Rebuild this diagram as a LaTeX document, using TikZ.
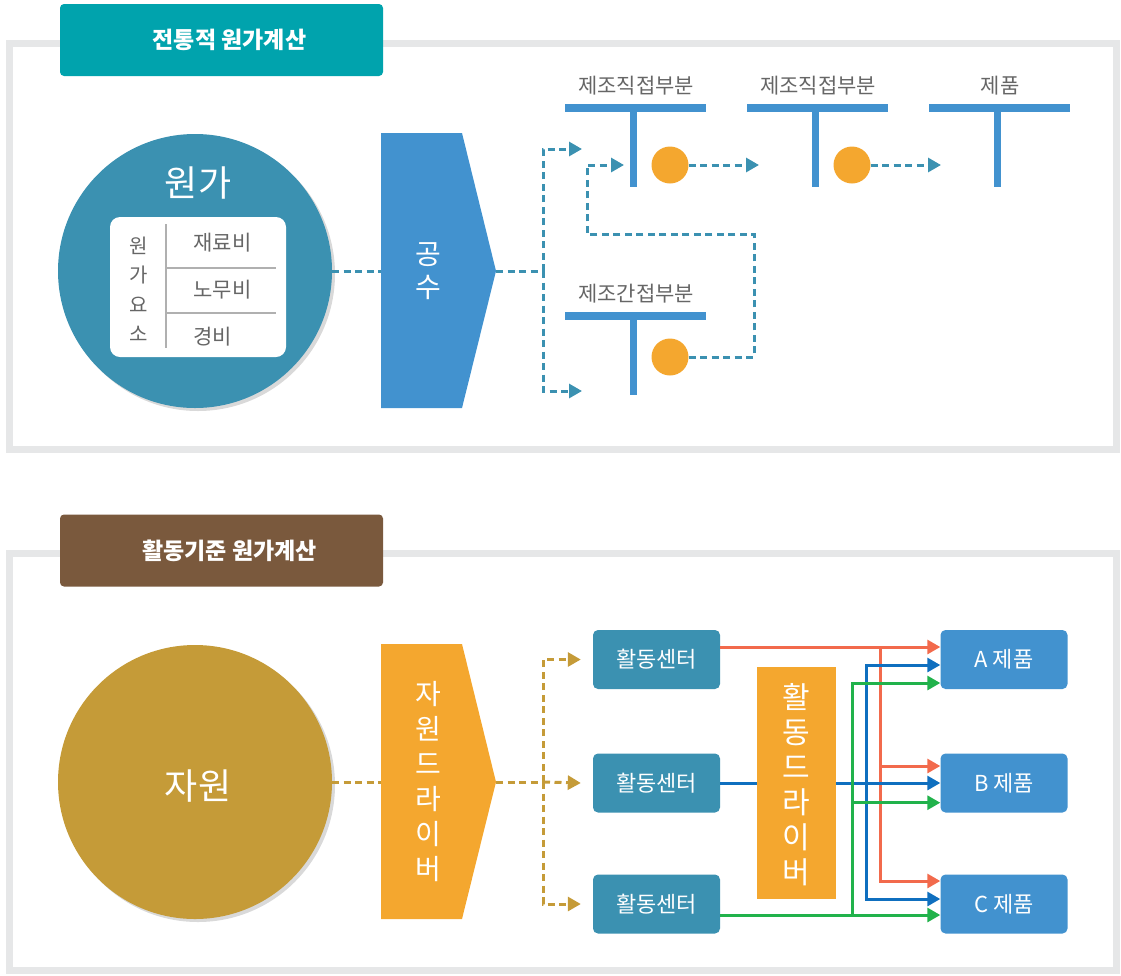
\documentclass[tikz,border=0pt]{standalone}
\usepackage{fontspec}
\setmainfont{Noto Sans CJK KR}
\usetikzlibrary{arrows.meta,shadows,calc}
\definecolor{titleteal}{RGB}{0,163,173}
\definecolor{titlebrown}{RGB}{122,89,61}
\definecolor{costblue}{RGB}{59,145,177}
\definecolor{chevblue}{RGB}{66,146,207}
\definecolor{dotorange}{RGB}{244,167,47}
\definecolor{resgold}{RGB}{197,155,56}
\definecolor{panelgray}{RGB}{230,231,232}
\definecolor{graytext}{RGB}{102,102,102}
\definecolor{linegray}{RGB}{176,176,176}
\definecolor{redline}{RGB}{242,106,76}
\definecolor{blueline}{RGB}{15,111,191}
\definecolor{greenline}{RGB}{33,178,75}

\begin{document}
\begin{tikzpicture}[x=1pt,y=-1pt]
			\tikzset{>={Triangle[length=13pt,width=14pt]}}
			\tikzset{
				panel/.style={draw=panelgray, line width=7pt},
				titlebox/.style={rounded corners=4pt, minimum width=323pt, minimum height=72pt, inner sep=0pt, text=white, font=\fontsize{23}{26}\selectfont\bfseries},
				bigcircle/.style={circle, minimum size=274pt, inner sep=0pt, drop shadow={shadow xshift=3pt, shadow yshift=-3pt, opacity=0.3}},
				flow/.style={dash pattern=on 7pt off 4.5pt, line width=3pt},
				dot/.style={circle, fill=dotorange, minimum size=37pt, inner sep=0pt},
				tlabel/.style={text=graytext, font=\fontsize{21}{24}\selectfont},
				vtext/.style={text=white, align=center, inner sep=0pt},
				acbox/.style={fill=costblue, rounded corners=5pt, minimum width=127pt, minimum height=59pt, text=white, font=\fontsize{22}{24}\selectfont},
				prodbox/.style={fill=chevblue, rounded corners=5pt, minimum width=127pt, minimum height=59pt, text=white, font=\fontsize{22}{24}\selectfont},
				cline/.style={line width=3pt, ->}
			}
			\useasboundingbox (0,0) rectangle (1121,975);

			\newcommand\TBar[4]{%
				\fill[chevblue] (#2-68,#3-4) rectangle (#2+73,#3+4);
				\fill[chevblue] (#2-3.5,#3) rectangle (#2+3.5,#3+79);
				\node[tlabel] (#1) at (#2+3,#3-22) {#4};
			}

			% traditional costing
			\draw[panel] (9,43) rectangle (1116.5,449);
			\node[titlebox, fill=titleteal] (ttl1) at (221.5,40) {\hspace*{16pt}전통적 원가계산};

			\node[bigcircle, fill=costblue] (cost) at (195,271) {};
			\node[text=white, font=\fontsize{36}{40}\selectfont] (costlbl) at (198,183) {원가};
			\node[fill=white, rounded corners=10pt, minimum width=176pt, minimum height=140pt, inner sep=0pt] (elems) at (198,287) {};
			\draw[linegray, line width=1.5pt] (166,224) -- (166,348);
			\draw[linegray, line width=1.5pt] (166,268) -- (276,268) (166,313) -- (276,313);
			\node[tlabel, align=center, font=\fontsize{20}{29.5}\selectfont] (elemname) at (139,289) {원\\가\\요\\소};
			\node[tlabel, anchor=west] (mat) at (190,243) {재료비};
			\node[tlabel, anchor=west] (lab) at (190,290) {노무비};
			\node[tlabel, anchor=west] (exp) at (190,337) {경비};

			\fill[chevblue] (381,133) -- (462,133) -- (496,271) -- (462,408) -- (381,408) -- cycle;
			\coordinate (mhin) at (381,271);
			\coordinate (mhtip) at (496,271);
			\node[vtext, font=\fontsize{28}{33}\selectfont] (mh) at (428,271) {공\\수};

			\draw[flow, draw=costblue] (cost.east) -- (mhin);
			\coordinate (split1) at (543,271);
			\coordinate (in1) at (582,149);
			\coordinate (in4) at (582,391);
			\draw[flow, draw=costblue] (mhtip) -- (split1);
			\draw[flow, draw=costblue, ->] (split1) |- (in1);
			\draw[flow, draw=costblue, ->] (split1) |- (in4);

			\TBar{dir1}{633}{108}{제조직접부분}
			\TBar{dir2}{815}{108}{제조직접부분}
			\TBar{prod}{997}{108}{제품}
			\TBar{indir}{633}{316}{제조간접부분}

			\node[dot] (d1) at (670,165) {};
			\node[dot] (d2) at (852,165) {};
			\node[dot] (d3) at (670,357) {};
			\coordinate (in2) at (759,165);
			\coordinate (in3) at (941,165);
			\coordinate (in1b) at (624,165);
			\draw[flow, draw=costblue, ->] (d1.east) -- (in2);
			\draw[flow, draw=costblue, ->] (d2.east) -- (in3);
			\draw[flow, draw=costblue, ->] (d3.east) -- (754,357) -- (754,234) -- (587,234) -- (587,165) -- (in1b);

			% activity based costing
			\draw[panel] (9,553) rectangle (1116.5,970);
			\node[titlebox, fill=titlebrown] (ttl2) at (221.5,550.5) {\hspace*{16pt}활동기준 원가계산};

			\node[bigcircle, fill=resgold] (res) at (195,782) {};
			\node[text=white, font=\fontsize{36}{40}\selectfont] (reslbl) at (198,786) {자원};

			\fill[dotorange] (381,644) -- (462,644) -- (496,782) -- (462,919) -- (381,919) -- cycle;
			\coordinate (rdin) at (381,782);
			\coordinate (rdtip) at (496,782);
			\node[vtext, font=\fontsize{28}{35}\selectfont] (rd) at (428,782) {자\\원\\드\\라\\이\\버};

			\draw[flow, draw=resgold] (res.east) -- (rdin);
			\coordinate (split2) at (543,782);
			\draw[flow, draw=resgold] (rdtip) -- (split2);

			\node[acbox] (ac1) at (656.5,659.5) {활동센터};
			\node[acbox] (ac2) at (656.5,783) {활동센터};
			\node[acbox] (ac3) at (656.5,904) {활동센터};
			\draw[flow, draw=resgold, ->] (split2) |- ([xshift=-12pt]ac1.west);
			\draw[flow, draw=resgold, ->] (split2) -- ([xshift=-12pt]ac2.west);
			\draw[flow, draw=resgold, ->] (split2) |- ([xshift=-12pt]ac3.west);

			\node[prodbox] (pa) at (1004,659.5) {A~제품};
			\node[prodbox] (pb) at (1004,783) {B~제품};
			\node[prodbox] (pc) at (1004,904) {C~제품};

			\coordinate (rbr) at (880,647);
			\coordinate (bbr) at (866,783);
			\coordinate (gbr) at (852,915);
			\draw[cline, draw=redline] ([yshift=12.5pt]ac1.east) -- ([yshift=12.5pt]pa.west);
			\draw[cline, draw=redline] (rbr) |- ([yshift=17pt]pb.west);
			\draw[cline, draw=redline] (rbr) |- ([yshift=23pt]pc.west);
			\draw[cline, draw=blueline] (ac2.east) -- (pb.west);
			\draw[cline, draw=blueline] (bbr) |- ([yshift=-5.5pt]pa.west);
			\draw[cline, draw=blueline] (bbr) |- ([yshift=5pt]pc.west);
			\draw[cline, draw=greenline] ([yshift=-11pt]ac3.east) -- ([yshift=-11pt]pc.west);
			\draw[cline, draw=greenline] (gbr) |- ([yshift=-23.5pt]pa.west);
			\draw[cline, draw=greenline] (gbr) |- ([yshift=-19.7pt]pb.west);

			\node[fill=dotorange, minimum width=79pt, minimum height=232pt, inner sep=0pt] (ad) at (796,783) {};
			\node[vtext, font=\fontsize{30}{35}\selectfont] (adtxt) at (796,785) {활\\동\\드\\라\\이\\버};
		\end{tikzpicture}
\end{document}
